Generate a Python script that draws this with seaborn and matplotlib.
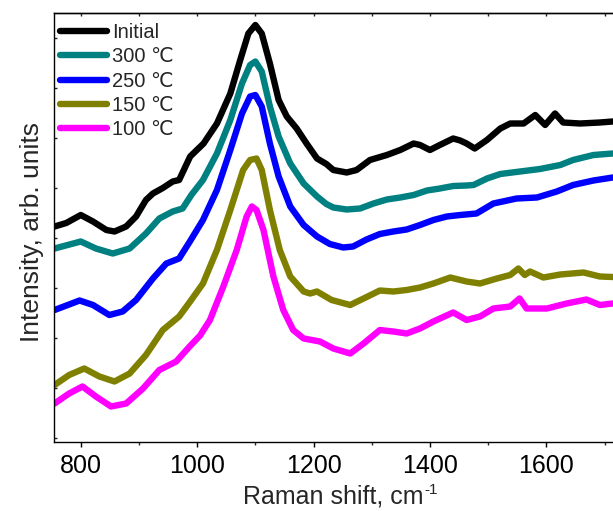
import matplotlib
matplotlib.use("Agg")
import matplotlib.pyplot as plt
from matplotlib.ticker import MultipleLocator, NullFormatter
import numpy as np
import pandas as pd
import seaborn as sns

# Raman spectra (offset intensities, arbitrary units)
shift_initial = [755, 775, 800, 821, 844, 858, 878, 895, 912, 924, 941, 958, 969, 988, 1011,
                 1034, 1057, 1074, 1088, 1100, 1111, 1125, 1140, 1154, 1171, 1188, 1206, 1222,
                 1234, 1257, 1274, 1297, 1326, 1349, 1372, 1383, 1400, 1417, 1440, 1452, 1463,
                 1477, 1498, 1521, 1538, 1561, 1581, 1598, 1615, 1629, 1658, 1692, 1714]
int_initial = [4.23, 4.30, 4.46, 4.33, 4.16, 4.13, 4.23, 4.43, 4.76, 4.89, 5.00, 5.13, 5.16,
               5.63, 5.89, 6.29, 6.89, 7.56, 8.09, 8.26, 8.09, 7.49, 6.76, 6.43, 6.19, 5.89,
               5.59, 5.48, 5.36, 5.31, 5.36, 5.56, 5.66, 5.76, 5.89, 5.86, 5.76, 5.86, 5.99,
               5.95, 5.89, 5.79, 5.96, 6.19, 6.29, 6.29, 6.46, 6.26, 6.49, 6.31, 6.29, 6.31, 6.33]

shift_300 = [755, 800, 826, 855, 884, 912, 935, 958, 975, 990, 1010, 1034, 1057, 1077, 1091,
             1100, 1111, 1125, 1140, 1160, 1183, 1206, 1222, 1234, 1257, 1280, 1303, 1326,
             1349, 1372, 1395, 1417, 1440, 1463, 1475, 1498, 1521, 1555, 1589, 1624, 1646,
             1681, 1714]
int_300 = [3.79, 3.93, 3.79, 3.69, 3.79, 4.09, 4.39, 4.53, 4.59, 4.86, 5.16, 5.69, 6.36, 7.09,
           7.46, 7.53, 7.33, 6.63, 6.03, 5.49, 5.09, 4.83, 4.68, 4.61, 4.57, 4.59, 4.69, 4.77,
           4.81, 4.86, 4.95, 4.99, 5.04, 5.05, 5.06, 5.19, 5.28, 5.33, 5.38, 5.46, 5.56, 5.66,
           5.69]

shift_250 = [755, 798, 821, 849, 872, 895, 924, 947, 969, 988, 1010, 1034, 1057, 1077, 1091,
             1100, 1111, 1125, 1140, 1160, 1183, 1206, 1228, 1251, 1268, 1291, 1314, 1337,
             1360, 1383, 1406, 1429, 1452, 1480, 1509, 1549, 1584, 1618, 1646, 1681, 1714]
int_250 = [2.56, 2.75, 2.66, 2.46, 2.53, 2.76, 3.19, 3.49, 3.59, 3.94, 4.36, 4.96, 5.76, 6.49,
           6.83, 6.86, 6.63, 5.89, 5.23, 4.63, 4.26, 4.03, 3.88, 3.81, 3.83, 3.97, 4.08, 4.13,
           4.17, 4.26, 4.36, 4.43, 4.46, 4.49, 4.69, 4.79, 4.81, 4.93, 5.06, 5.15, 5.21]

shift_150 = [755, 780, 806, 832, 858, 884, 912, 941, 969, 988, 1010, 1034, 1057, 1079, 1091,
             1102, 1111, 1125, 1142, 1160, 1183, 1194, 1206, 1231, 1263, 1286, 1314, 1337,
             1360, 1383, 1406, 1435, 1463, 1486, 1515, 1538, 1552, 1563, 1572, 1595, 1624,
             1664, 1692, 1714]
int_150 = [1.06, 1.26, 1.39, 1.23, 1.13, 1.29, 1.66, 2.16, 2.43, 2.73, 3.09, 3.76, 4.56, 5.36,
           5.56, 5.59, 5.36, 4.56, 3.76, 3.23, 2.93, 2.89, 2.93, 2.76, 2.66, 2.79, 2.95, 2.93,
           2.96, 3.01, 3.09, 3.21, 3.13, 3.09, 3.19, 3.26, 3.39, 3.26, 3.33, 3.21, 3.27, 3.31,
           3.23, 3.22]

shift_100 = [755, 780, 803, 826, 852, 878, 907, 935, 964, 987, 1005, 1022, 1045, 1068, 1085,
             1094, 1102, 1114, 1131, 1148, 1165, 1183, 1211, 1234, 1263, 1286, 1314, 1337,
             1360, 1383, 1406, 1440, 1463, 1486, 1509, 1538, 1554, 1566, 1601, 1635, 1669,
             1692, 1714]
int_100 = [0.69, 0.89, 1.03, 0.83, 0.63, 0.69, 0.99, 1.36, 1.53, 1.83, 2.05, 2.36, 3.03, 3.76,
           4.43, 4.63, 4.56, 4.16, 3.23, 2.56, 2.16, 1.99, 1.93, 1.79, 1.69, 1.89, 2.16, 2.13,
           2.09, 2.19, 2.33, 2.51, 2.36, 2.43, 2.59, 2.63, 2.79, 2.59, 2.59, 2.69, 2.77, 2.66,
           2.69]

labels = ["Initial", "300 \u2103", "250 \u2103", "150 \u2103", "100 \u2103"]
colors = ["#000000", "#008080", "#0000ff", "#808000", "#ff00ff"]
xticks = [800, 1000, 1200, 1400, 1600]

series = [(shift_initial, int_initial), (shift_300, int_300), (shift_250, int_250),
          (shift_150, int_150), (shift_100, int_100)]
frames = []
for lab, (sx, sy) in zip(labels, series):
    frames.append(pd.DataFrame({"shift": sx, "intensity": sy, "sample": lab}))
df = pd.concat(frames, ignore_index=True)

sns.set_style("ticks")
plt.rcParams["font.family"] = ["Liberation Sans", "DejaVu Sans"]

W, H = 613, 511
fig = plt.figure(figsize=(W / 100, H / 100), dpi=100)
ax = fig.add_axes([54 / W, 69.3 / H, 559 / W, 428.4 / H])

sns.lineplot(data=df, x="shift", y="intensity", hue="sample", hue_order=labels,
             palette=colors, estimator=None, sort=True, linewidth=4.6, ax=ax,
             solid_joinstyle="round", solid_capstyle="round")

ax.set_xlim(754, 1714.6)
ax.set_ylim(-0.074, 8.494)

ax.xaxis.set_minor_locator(MultipleLocator(100))
ax.yaxis.set_major_locator(MultipleLocator(1))
ax.yaxis.set_major_formatter(NullFormatter())
ax.set_xticks(xticks)
ax.set_xticklabels([str(t) for t in xticks])

ax.tick_params(axis="x", which="major", direction="out", length=3.8, width=1.0,
               labelsize=18, pad=5, colors="black")
ax.tick_params(axis="x", which="minor", direction="out", length=2.4, width=1.0)
ax.tick_params(axis="y", which="major", direction="in", length=2.5, width=1.0, left=True,
               labelleft=False)

# inward ticks along the top frame
top = ax.secondary_xaxis("top")
top.xaxis.set_major_locator(MultipleLocator(200))
top.xaxis.set_minor_locator(MultipleLocator(100))
top.tick_params(axis="x", which="major", direction="in", length=2.5, width=1.0, labeltop=False)
top.tick_params(axis="x", which="minor", direction="in", length=2.0, width=1.0)

for side in ["left", "bottom", "top"]:
    ax.spines[side].set_visible(True)
    ax.spines[side].set_linewidth(1.0)
    ax.spines[side].set_color("black")
ax.spines["right"].set_visible(False)
top.spines["top"].set_linewidth(1.0)

ax.set_xlabel("Raman shift, cm", fontsize=18, labelpad=5)
ax.set_ylabel("Intensity, arb. units", fontsize=19, labelpad=7)
ax.yaxis.label.set_y(0.49)

leg = ax.legend(loc="upper left", bbox_to_anchor=(0.0107, 0.978), frameon=False,
                fontsize=14.5, handlelength=2.35, handletextpad=0.25, labelspacing=0.27,
                borderpad=0, borderaxespad=0)
for line in leg.get_lines():
    line.set_linewidth(4.6)
    line.set_solid_capstyle("round")

# superscript exponent of the unit, set right after the axis label
fig.canvas.draw()
bb = ax.xaxis.label.get_window_extent()
fig.text((bb.x1 + 1) / W, (bb.y1 + 2) / H, "-1", fontsize=11, ha="left", va="top")

fig.savefig("out.png", dpi=100)
